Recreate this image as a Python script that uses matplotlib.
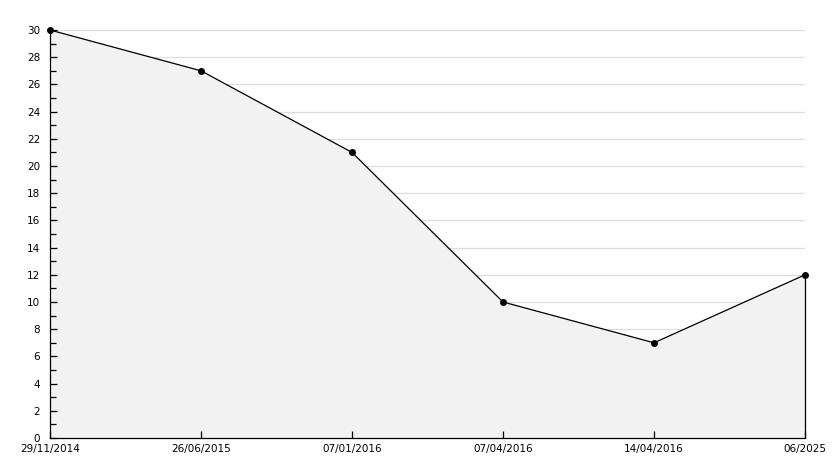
import numpy as np
import matplotlib
matplotlib.use("Agg")
import matplotlib.pyplot as plt
from matplotlib.ticker import MultipleLocator

dates = ["29/11/2014", "26/06/2015", "07/01/2016", "07/04/2016", "14/04/2016", "06/2025"]
values = [30, 27, 21, 10, 7, 12]

x = np.arange(len(dates))

fig = plt.figure(figsize=(8.34, 4.68), dpi=100)
ax = fig.add_axes([50 / 834, 30 / 468, 755 / 834, 408 / 468])

# grid drawn under the filled area
for g in range(2, 31, 2):
    ax.axhline(g, color="#dddddd", lw=0.9, zorder=0.5)

# filled area under the line
ax.fill_between(x, values, 0, color="#f2f2f2", zorder=1)
ax.vlines(x[-1], 0, values[-1], color="black", lw=0.9, zorder=3, clip_on=False)
ax.plot(x, values, color="black", lw=0.9, marker="o", markersize=4, zorder=4,
        clip_on=False)

ax.set_xlim(x[0], x[-1])
ax.set_ylim(0, 30)
ax.yaxis.set_major_locator(MultipleLocator(2))
ax.yaxis.set_minor_locator(MultipleLocator(1))
ax.set_xticks(x)
ax.set_xticklabels(dates)

for side in ["top", "right"]:
    ax.spines[side].set_visible(False)
ax.spines["left"].set_linewidth(0.9)
ax.spines["bottom"].set_linewidth(0.9)

ax.tick_params(axis="both", which="major", direction="in", length=5, width=0.9,
               labelsize=7.5, pad=4, colors="black")
ax.tick_params(axis="y", which="minor", direction="in", length=4, width=0.9)
ax.tick_params(axis="y", pad=7)

fig.savefig("out.png", dpi=100)
